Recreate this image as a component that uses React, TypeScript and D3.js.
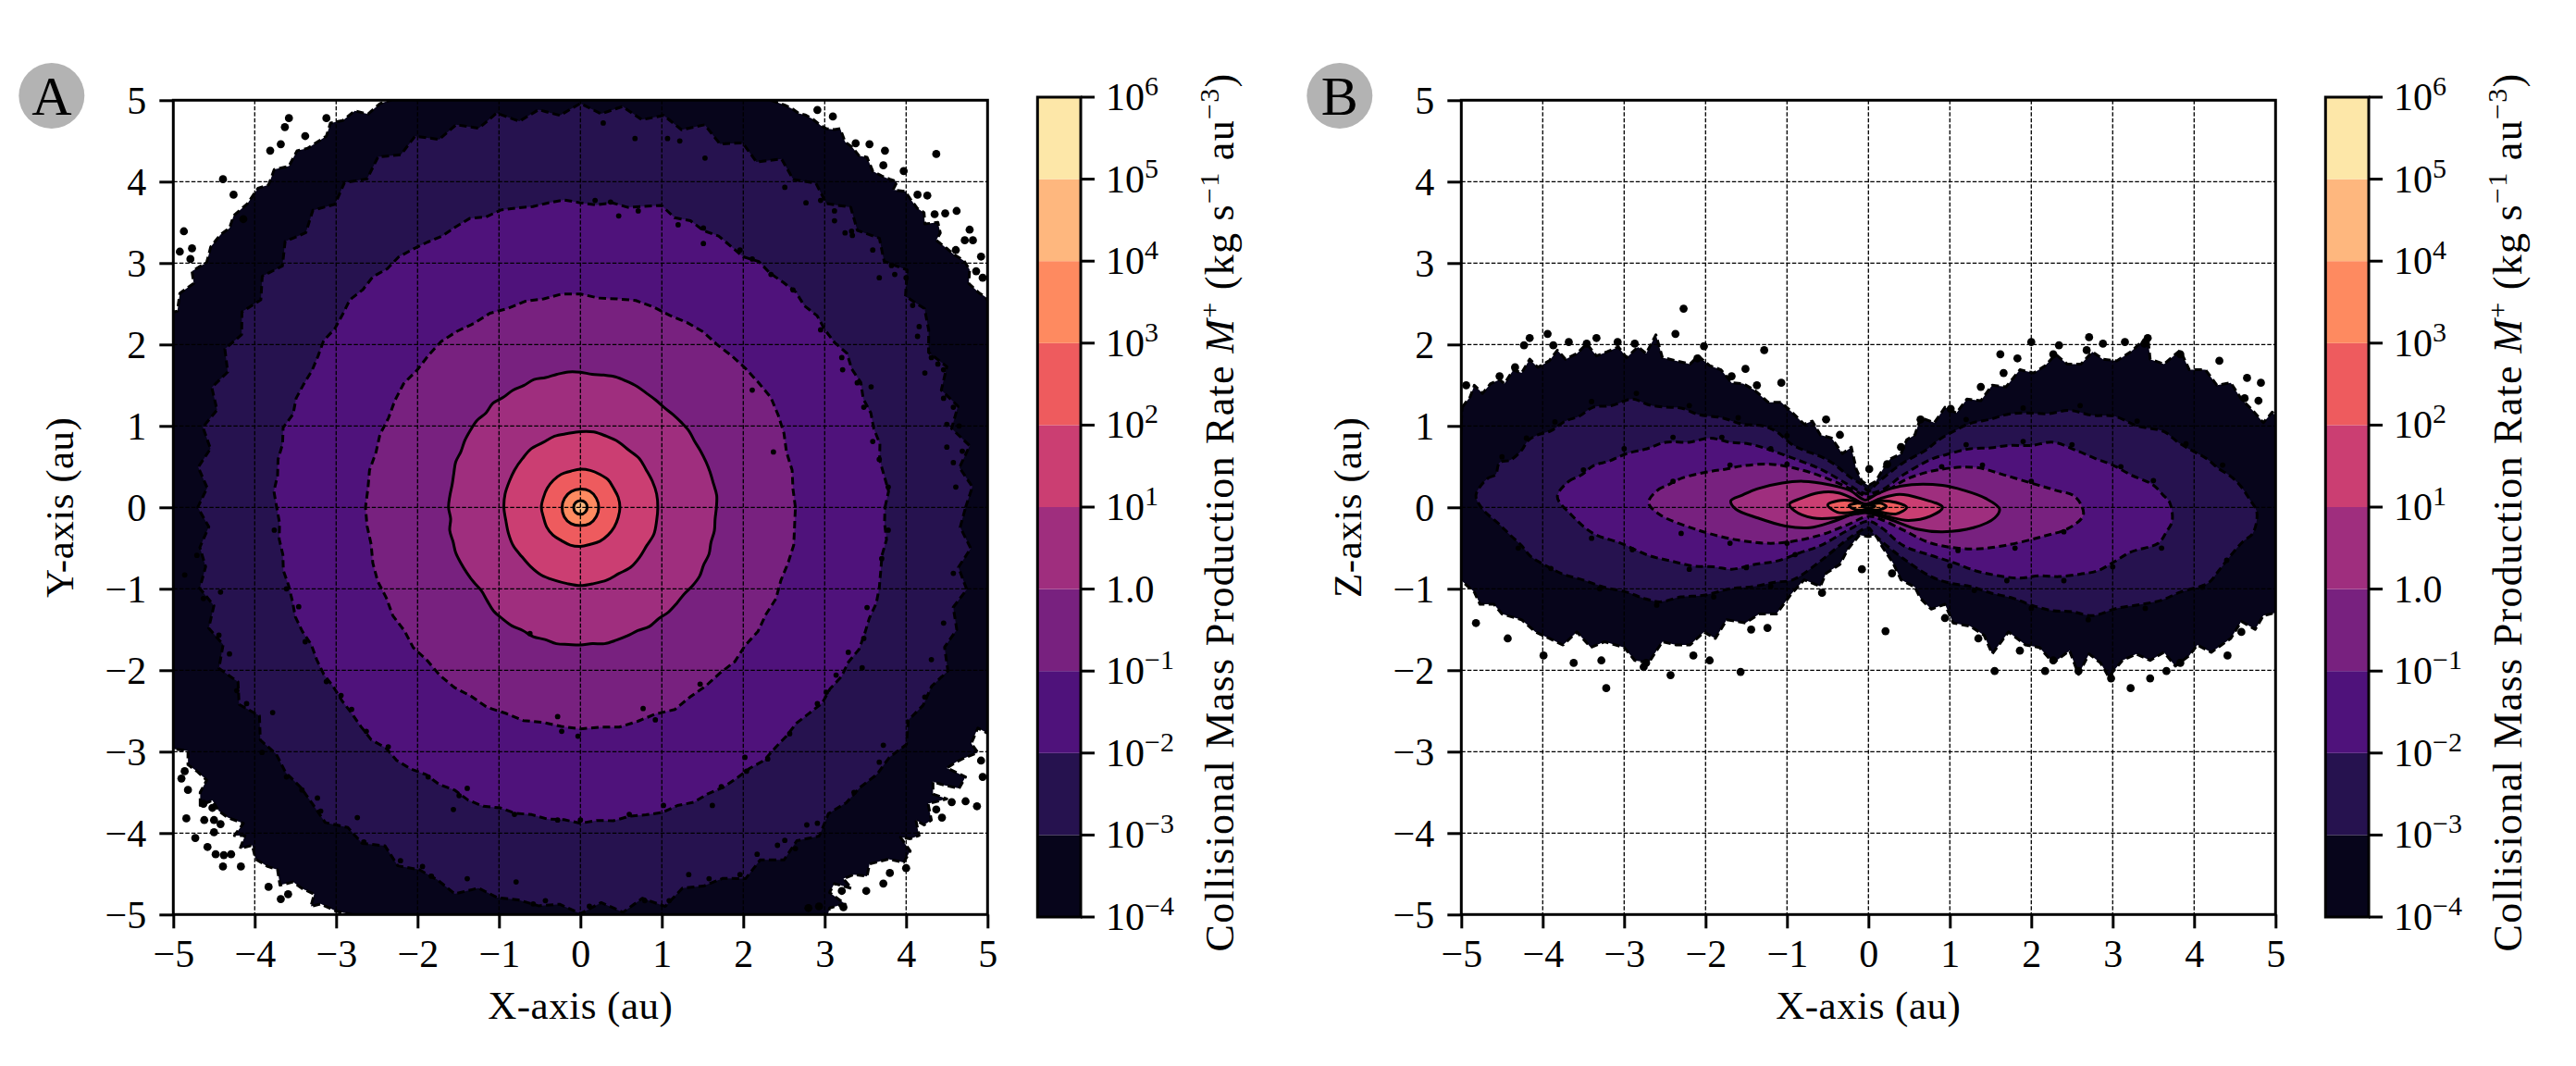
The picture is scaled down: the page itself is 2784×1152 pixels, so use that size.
import * as d3 from 'd3';
import React, { useEffect, useRef } from 'react';

const FONT = '"Liberation Serif", serif';

const xTicks = [-5, -4, -3, -2, -1, 0, 1, 2, 3, 4, 5];
const yTicks = [-5, -4, -3, -2, -1, 0, 1, 2, 3, 4, 5];
const cbarExponents = [-4, -3, -2, -1, 0, 1, 2, 3, 4, 5, 6];
const bandColors = ['#07051b', '#26124f', '#4f127b', '#78217f', '#9f2e7e', '#cb3e72', '#ee5b5e', '#fe8a60', '#feb77e', '#fde7a8'];
const contourExponents = [-4, -3, -2, -1, 0, 1, 2, 3, 4];

// Panel A: outer edge as [x, y] points, clockwise from the top right
const rimA = [
  [2.34, 5.0], [2.51, 4.94], [2.61, 4.89], [2.68, 4.84], [2.76, 4.82], [2.85, 4.77], [2.95, 4.69], [3.02, 4.65], [3.12, 4.64], [3.19, 4.65], [3.25, 4.49], [3.34, 4.42], [3.42, 4.32], [3.52, 4.3], [3.59, 4.13], [3.7, 4.07], [3.8, 4.03], [3.89, 4.0], [3.84, 3.9], [3.99, 3.88], [4.05, 3.79], [4.14, 3.67], [4.22, 3.62], [4.23, 3.48], [4.39, 3.5], [4.42, 3.37], [4.37, 3.28], [4.5, 3.18], [4.58, 3.11], [4.71, 3.03], [4.78, 2.92], [4.77, 2.75], [4.9, 2.63], [4.97, 2.59], [5.07, 2.44], [5.4, 0],
  [5.01, -2.78], [4.88, -2.71], [4.8, -2.9], [4.88, -3.01], [4.69, -3.09], [4.61, -3.13], [4.5, -3.2], [4.73, -3.31], [4.65, -3.45], [4.46, -3.41], [4.33, -3.37], [4.33, -3.52], [4.5, -3.58], [4.27, -3.64], [4.31, -3.84], [4.22, -3.9], [4.12, -3.84], [4.16, -4.03], [4.05, -4.07], [3.93, -4.05], [4.05, -4.22], [3.97, -4.36], [3.78, -4.32], [3.55, -4.38], [3.52, -4.53], [3.36, -4.51], [3.23, -4.56], [3.33, -4.68], [3.12, -4.62], [3.06, -4.73], [3.25, -4.87], [3.06, -4.92], [3.04, -5.0], [3.04, -5.2], [0, -5.4],
  [-2.81, -5.2], [-2.81, -5.0], [-3.0, -4.96], [-3.19, -4.87], [-3.31, -4.9], [-3.27, -4.75], [-3.42, -4.68], [-3.53, -4.6], [-3.69, -4.64], [-3.72, -4.45], [-3.84, -4.41], [-3.99, -4.32], [-4.03, -4.15], [-4.18, -4.19], [-4.12, -4.03], [-4.25, -4.03], [-4.14, -3.88], [-4.33, -3.81], [-4.44, -3.73], [-4.52, -3.6], [-4.67, -3.66], [-4.67, -3.5], [-4.59, -3.35], [-4.71, -3.24], [-4.82, -3.16], [-4.82, -2.99], [-4.97, -2.97], [-5.28, -2.94], [-5.4, 0],
  [-5.1, 2.38], [-4.95, 2.41], [-4.92, 2.63], [-4.75, 2.75], [-4.77, 2.9], [-4.59, 3.01], [-4.54, 3.2], [-4.42, 3.35], [-4.31, 3.43], [-4.26, 3.58], [-4.09, 3.73], [-3.96, 3.92], [-3.83, 3.96], [-3.76, 4.15], [-3.58, 4.19], [-3.48, 4.38], [-3.35, 4.41], [-3.12, 4.56], [-3.07, 4.72], [-2.92, 4.75], [-2.77, 4.87], [-2.61, 4.83], [-2.46, 4.96], [-2.33, 5.0], [-2.33, 5.2], [0, 5.4], [2.34, 5.2],
];

// Panel A: contour radii (au), read at equal angles counter-clockwise from +x
const minus3A = [
  4.73, 4.82, 4.68, 4.84, 4.66, 4.8, 4.66, 4.82, 4.68, 4.8, 4.88, 4.76, 4.96, 4.8, 4.94, 4.81, 4.96, 4.8, 4.92, 4.8, 4.94, 4.76, 4.9, 4.78, 4.94, 4.8, 4.92, 4.82, 4.95, 4.84,
  4.96, 4.82, 4.91, 4.8, 4.95, 4.82, 4.94, 4.84, 4.99, 4.86, 4.97, 4.81, 4.93, 4.79, 4.91, 4.77, 4.88, 4.71, 4.83, 4.68, 4.8, 4.67, 4.78, 4.64, 4.76, 4.62, 4.74, 4.6, 4.72, 4.59,
  4.7, 4.57, 4.7, 4.66, 4.78, 4.66, 4.8, 4.7, 4.86, 4.72, 4.84, 4.7, 4.86, 4.81, 4.87, 4.86, 4.91, 4.98, 4.86, 4.92, 4.8, 4.94, 4.87, 4.9, 4.99, 4.84, 4.9, 4.88, 4.92, 4.88,
  4.99, 4.86, 5.0, 4.86, 5.01, 4.84, 4.89, 4.88, 4.99, 4.86, 5.0, 4.88, 4.99, 4.84, 4.88, 4.86, 4.9, 4.88, 4.95, 4.8, 4.86, 4.84, 4.94, 4.79, 4.86, 4.74, 4.85, 4.7, 4.82, 4.67,
];
const minus2A = [
  3.74, 3.79, 3.75, 3.72, 3.76, 3.73, 3.75, 3.72, 3.77, 3.74, 3.78, 3.72, 3.71, 3.74, 3.7, 3.74, 3.72, 3.7, 3.73, 3.67, 3.7, 3.74, 3.72, 3.77, 3.74, 3.84, 3.78, 3.73, 3.76, 3.72,
  3.74, 3.78, 3.76, 3.74, 3.76, 3.78, 3.75, 3.8, 3.77, 3.74, 3.76, 3.78, 3.8, 3.77, 3.81, 3.78, 3.81, 3.76, 3.73, 3.76, 3.72, 3.7, 3.72, 3.74, 3.71, 3.78, 3.74, 3.76, 3.74, 3.77,
  3.73, 3.7, 3.72, 3.7, 3.73, 3.71, 3.72, 3.75, 3.74, 3.71, 3.74, 3.76, 3.75, 3.77, 3.78, 3.81, 3.84, 3.8, 3.84, 3.83, 3.79, 3.82, 3.8, 3.85, 3.86, 3.82, 3.84, 3.82, 3.85, 3.84,
  3.88, 3.85, 3.87, 3.84, 3.86, 3.88, 3.85, 3.88, 3.85, 3.86, 3.84, 3.82, 3.84, 3.8, 3.78, 3.75, 3.78, 3.82, 3.79, 3.82, 3.8, 3.84, 3.82, 3.8, 3.82, 3.8, 3.77, 3.75, 3.78, 3.74,
];
const minus1A = [
  2.64, 2.62, 2.64, 2.62, 2.66, 2.68, 2.7, 2.67, 2.65, 2.63, 2.61, 2.63, 2.62, 2.6, 2.62, 2.63, 2.6, 2.58, 2.62, 2.63, 2.6, 2.62, 2.6,
  2.63, 2.61, 2.64, 2.66, 2.64, 2.62, 2.65, 2.63, 2.6, 2.62, 2.6, 2.63, 2.62, 2.64, 2.63, 2.61, 2.64, 2.65, 2.63, 2.66, 2.64, 2.68, 2.66,
  2.69, 2.7, 2.68, 2.71, 2.69, 2.71, 2.68, 2.7, 2.72, 2.71, 2.74, 2.72, 2.7, 2.74, 2.69, 2.68, 2.66, 2.68, 2.64, 2.66, 2.63, 2.65, 2.62, 2.64, 2.66, 2.64,
];
const zeroA = [
  1.67, 1.68, 1.66, 1.65, 1.64, 1.63, 1.62, 1.63, 1.62, 1.61, 1.6, 1.61, 1.62, 1.64, 1.65, 1.66, 1.65, 1.64, 1.66, 1.67,
  1.66, 1.65, 1.67, 1.65, 1.66, 1.65, 1.67, 1.64, 1.66, 1.65, 1.64, 1.62, 1.63, 1.61, 1.6, 1.61, 1.62, 1.6, 1.63, 1.62,
  1.63, 1.62, 1.61, 1.6, 1.59, 1.62, 1.66, 1.67, 1.68, 1.67, 1.69, 1.68, 1.7, 1.69, 1.69, 1.68, 1.7, 1.69, 1.68, 1.67,
  1.69, 1.67, 1.68, 1.67, 1.66, 1.68, 1.69, 1.67, 1.68, 1.66, 1.67, 1.66,
];
const oneA = [0.95, 0.95, 0.94, 0.93, 0.94, 0.92, 0.93, 0.93, 0.94, 0.93, 0.92, 0.93, 0.92, 0.94, 0.93, 0.93, 0.93, 0.94, 0.94, 0.93, 0.94, 0.95, 0.94, 0.95, 0.96, 0.95, 0.95, 0.96, 0.95, 0.95, 0.94, 0.96, 0.95, 0.94, 0.96, 0.95];
const twoA = [0.485, 0.48, 0.47, 0.48, 0.47, 0.47, 0.47, 0.46, 0.47, 0.47, 0.47, 0.47, 0.48, 0.47, 0.48, 0.48, 0.47, 0.48, 0.48, 0.47, 0.48, 0.48, 0.48, 0.48];
const threeA = [0.225, 0.225, 0.23, 0.225, 0.225, 0.225, 0.225, 0.23, 0.23, 0.225, 0.23, 0.225];
const fourA = [0.083, 0.085, 0.083, 0.083, 0.083, 0.085, 0.085, 0.083];

// Panel B: contours as [x, z] points
const rimB = [
  [-4.99, 1.23], [-4.89, 1.36], [-4.84, 1.5], [-4.74, 1.4], [-4.64, 1.52], [-4.53, 1.57], [-4.47, 1.52], [-4.36, 1.69], [-4.26, 1.65], [-4.16, 1.82], [-4.06, 1.72], [-3.92, 1.8], [-3.82, 1.93], [-3.72, 1.82], [-3.58, 1.89], [-3.46, 2.01], [-3.34, 1.86], [-3.21, 1.91], [-3.07, 1.97], [-2.97, 1.84], [-2.83, 1.97], [-2.73, 1.89], [-2.61, 2.12], [-2.53, 1.84], [-2.36, 1.8], [-2.19, 1.76], [-2.09, 1.86], [-1.95, 1.74], [-1.81, 1.69], [-1.68, 1.53], [-1.54, 1.52], [-1.4, 1.44], [-1.23, 1.29], [-1.07, 1.29], [-0.93, 1.16], [-0.79, 1.02], [-0.69, 1.06], [-0.59, 0.89], [-0.45, 0.85], [-0.32, 0.66], [-0.21, 0.74], [-0.15, 0.47], [-0.08, 0.32], [0, 0.27],
  [0.09, 0.32], [0.19, 0.49], [0.26, 0.59], [0.4, 0.66], [0.47, 0.83], [0.57, 0.89], [0.64, 1.1], [0.81, 1.04], [0.94, 1.23], [1.08, 1.16], [1.21, 1.33], [1.38, 1.31], [1.52, 1.5], [1.69, 1.48], [1.86, 1.69], [2.03, 1.65], [2.17, 1.74], [2.3, 1.88], [2.44, 1.76], [2.61, 1.76], [2.75, 1.91], [2.88, 1.82], [3.05, 1.8], [3.22, 1.91], [3.43, 2.1], [3.46, 1.82], [3.63, 1.76], [3.83, 1.93], [3.94, 1.69], [4.14, 1.69], [4.28, 1.5], [4.45, 1.53], [4.58, 1.33], [4.72, 1.19], [4.85, 1.04], [4.96, 1.17], [5.1, 1.0],
  [5.1, -1.27], [4.85, -1.33], [4.75, -1.5], [4.58, -1.4], [4.45, -1.61], [4.21, -1.78], [4.04, -1.69], [3.94, -1.82], [3.77, -1.95], [3.63, -1.78], [3.46, -1.88], [3.29, -1.8], [3.12, -1.88], [2.95, -2.08], [2.85, -1.91], [2.71, -1.8], [2.58, -2.05], [2.47, -1.76], [2.27, -1.91], [2.1, -1.72], [1.93, -1.69], [1.72, -1.53], [1.52, -1.8], [1.42, -1.57], [1.25, -1.46], [1.04, -1.42], [0.94, -1.19], [0.77, -1.25], [0.64, -1.12], [0.57, -0.98], [0.4, -0.89], [0.3, -0.68], [0.16, -0.47], [0.09, -0.34], [0, -0.36],
  [-0.11, -0.34], [-0.25, -0.51], [-0.35, -0.7], [-0.52, -0.81], [-0.59, -0.97], [-0.79, -0.89], [-0.96, -1.08], [-1.13, -1.31], [-1.34, -1.31], [-1.51, -1.42], [-1.74, -1.38], [-1.88, -1.61], [-2.02, -1.53], [-2.19, -1.69], [-2.36, -1.69], [-2.53, -1.65], [-2.7, -1.91], [-2.87, -1.88], [-3.0, -1.72], [-3.24, -1.65], [-3.41, -1.72], [-3.58, -1.53], [-3.75, -1.69], [-3.92, -1.61], [-4.09, -1.53], [-4.26, -1.38], [-4.5, -1.31], [-4.6, -1.19], [-4.77, -1.19], [-4.84, -1.04], [-5.1, -0.81],
];
const minus3B = [
  [-4.82, 0.15], [-4.67, 0.36], [-4.58, 0.4], [-4.53, 0.55], [-4.4, 0.58], [-4.26, 0.7], [-4.18, 0.82], [-4.06, 0.89], [-3.9, 0.94], [-3.72, 1.06], [-3.55, 1.12], [-3.38, 1.23], [-3.15, 1.25], [-2.9, 1.33], [-2.7, 1.26], [-2.49, 1.23], [-2.3, 1.22], [-2.09, 1.14], [-1.8, 1.1], [-1.54, 1.02], [-1.3, 1.0], [-1.13, 0.93], [-0.95, 0.78], [-0.79, 0.7], [-0.6, 0.63], [-0.45, 0.55], [-0.21, 0.36], [-0.08, 0.28], [0, 0.2],
  [0.09, 0.28], [0.23, 0.4], [0.43, 0.55], [0.7, 0.7], [0.88, 0.84], [1.04, 0.93], [1.25, 1.03], [1.49, 1.08], [1.7, 1.14], [1.93, 1.16], [2.2, 1.15], [2.47, 1.19], [2.75, 1.13], [3.02, 1.12], [3.3, 1.0], [3.63, 0.93], [3.8, 0.8], [3.97, 0.7], [4.15, 0.6], [4.31, 0.47], [4.45, 0.38], [4.58, 0.25], [4.68, 0.1], [4.77, -0.06],
  [4.72, -0.32], [4.6, -0.42], [4.45, -0.59], [4.3, -0.78], [4.17, -0.93], [3.83, -1.04], [3.6, -1.14], [3.36, -1.19], [3.05, -1.24], [2.75, -1.33], [2.5, -1.28], [2.27, -1.27], [2.0, -1.2], [1.79, -1.12], [1.5, -1.05], [1.25, -0.97], [1.0, -0.93], [0.77, -0.85], [0.43, -0.63], [0.19, -0.44], [0.06, -0.32], [0, -0.25],
  [-0.15, -0.32], [-0.32, -0.44], [-0.59, -0.66], [-0.93, -0.89], [-1.15, -0.92], [-1.4, -0.97], [-1.7, -1.0], [-2.02, -1.08], [-2.3, -1.1], [-2.56, -1.16], [-2.75, -1.12], [-2.97, -1.04], [-3.25, -0.98], [-3.51, -0.89], [-3.75, -0.82], [-3.99, -0.7], [-4.15, -0.6], [-4.26, -0.47], [-4.4, -0.34], [-4.53, -0.21], [-4.74, -0.02],
];
const minus2B = [
  [-3.82, 0.13], [-3.68, 0.32], [-3.52, 0.4], [-3.38, 0.51], [-3.18, 0.57], [-2.97, 0.66], [-2.72, 0.72], [-2.49, 0.8], [-2.2, 0.8], [-1.95, 0.85], [-1.7, 0.8], [-1.47, 0.78], [-1.25, 0.72], [-1, 0.63], [-0.59, 0.47], [-0.25, 0.28], [-0.04, 0.17],
  [0.16, 0.21], [0.43, 0.4], [0.77, 0.59], [1.0, 0.66], [1.25, 0.72], [1.5, 0.73], [1.72, 0.76], [2.0, 0.76], [2.27, 0.8], [2.55, 0.7], [2.81, 0.59], [3.0, 0.52], [3.22, 0.4], [3.49, 0.28], [3.62, 0.15], [3.7, 0.06],
  [3.73, -0.17], [3.66, -0.3], [3.56, -0.44], [3.22, -0.55], [3.0, -0.68], [2.81, -0.78], [2.6, -0.82], [2.34, -0.85], [2.1, -0.84], [1.86, -0.87], [1.6, -0.84], [1.32, -0.78], [1.05, -0.68], [0.77, -0.59], [0.43, -0.47], [0.16, -0.25], [0, -0.17],
  [-0.25, -0.28], [-0.59, -0.47], [-0.85, -0.56], [-1.13, -0.66], [-1.4, -0.7], [-1.68, -0.76], [-1.9, -0.73], [-2.15, -0.72], [-2.42, -0.66], [-2.7, -0.59], [-3.04, -0.44], [-3.38, -0.32], [-3.65, -0.09],
];
const minus1B = [
  [-2.7, 0.06], [-2.59, 0.21], [-2.45, 0.28], [-2.29, 0.36], [-1.95, 0.44], [-1.75, 0.47], [-1.54, 0.51], [-1.2, 0.53], [-0.86, 0.47], [-0.52, 0.36], [-0.18, 0.21], [0, 0.13],
  [0.16, 0.17], [0.5, 0.36], [0.91, 0.47], [1.32, 0.49], [1.66, 0.4], [2.06, 0.28], [2.3, 0.21], [2.54, 0.13], [2.64, -0.09],
  [2.47, -0.25], [2.13, -0.36], [1.66, -0.47], [1.25, -0.51], [0.77, -0.44], [0.43, -0.28], [0.16, -0.15], [0, -0.11],
  [-0.25, -0.21], [-0.59, -0.34], [-1.13, -0.44], [-1.61, -0.4], [-2.09, -0.28], [-2.56, -0.09],
];
const zeroB = [
  [-1.69, 0.08], [-1.55, 0.15], [-1.36, 0.23], [-1.06, 0.3], [-0.8, 0.32], [-0.49, 0.28], [-0.23, 0.21], [-0.04, 0.09],
  [0.08, 0.15], [0.27, 0.23], [0.53, 0.28], [0.91, 0.27], [1.17, 0.21], [1.44, 0.11], [1.61, -0.02],
  [1.55, -0.13], [1.29, -0.25], [0.91, -0.3], [0.61, -0.27], [0.27, -0.15], [0.04, -0.08], [-0.11, -0.06],
  [-0.42, -0.17], [-0.72, -0.25], [-1.02, -0.23], [-1.36, -0.13], [-1.63, -0.02],
];
const oneB = [[-0.97, 0.04], [-0.83, 0.11], [-0.61, 0.18], [-0.38, 0.18], [-0.19, 0.11], [-0.04, 0.04], [0.15, 0.11], [0.38, 0.16], [0.64, 0.11], [0.91, 0], [0.76, -0.11], [0.49, -0.16], [0.23, -0.11], [0.04, -0.06], [-0.15, -0.08], [-0.42, -0.13], [-0.68, -0.13], [-0.91, -0.04]];
const twoB = [[-0.5, 0.03], [-0.38, 0.08], [-0.19, 0.08], [-0.04, 0.04], [0.15, 0.08], [0.34, 0.06], [0.47, 0], [0.34, -0.08], [0.15, -0.06], [0, -0.04], [-0.19, -0.06], [-0.38, -0.06]];
const threeB = [[-0.24, 0.02], [-0.15, 0.05], [0, 0.04], [0.15, 0.05], [0.22, 0.01], [0.13, -0.03], [0, -0.03], [-0.15, -0.03]];
const fourB = [[-0.08, 0.015], [0, 0.03], [0.08, 0.015], [0, -0.01]];

// Isolated blobs outside and around the contours
const specksA = [
  [2.91, 4.88], [3.1, 4.8], [3.55, 4.46], [3.38, 4.47], [3.72, 4.2], [3.74, 4.38], [3.97, 4.13], [4.37, 4.34], [4.14, 3.84], [4.26, 3.83], [4.35, 3.6], [4.48, 3.61], [4.78, 3.41], [4.72, 3.28], [4.82, 3.28], [4.62, 3.64], [4.92, 3.08], [4.94, 2.82], [4.61, 3.16], [4.86, 2.9],
  [4.94, -3.31], [4.92, -3.11], [4.56, -3.62], [4.73, -3.61], [4.87, -3.67], [4.44, -3.81], [4.37, -3.71], [3.8, -4.49], [3.72, -4.62], [3.51, -4.71], [3.23, -4.91], [3.21, -4.71], [4.0, -4.43], [2.93, -4.9], [2.8, -4.92],
  [-4.84, -3.82], [-4.62, -3.84], [-4.5, -3.84], [-4.42, -3.89], [-4.73, -4.06], [-4.58, -4.17], [-4.48, -4.26], [-4.38, -4.27], [-4.29, -4.26], [-4.39, -4.41], [-4.17, -4.41], [-3.83, -4.66], [-3.68, -4.81], [-3.59, -4.75], [-4.86, -3.24], [-4.9, -3.33], [-4.82, -3.47], [-4.63, -3.64], [-4.52, -3.69], [-4.5, -3.99],
  [-3.58, 4.78], [-3.63, 4.67], [-3.12, 4.78], [-3.38, 4.56], [-3.68, 4.46], [-3.81, 4.38], [-4.39, 4.03], [-4.26, 3.84], [-4.87, 3.39], [-4.92, 3.14], [-4.79, 3.05], [-4.77, 3.18], [-4.14, 3.54],
];
const clutterA = [
  [0.28, 4.72], [0.67, 4.53], [1.07, 4.53], [1.22, 4.5], [1.53, 4.29], [2.51, 3.93], [2.77, 3.74], [3.12, 3.52], [3.34, 3.34], [3.25, 3.37], [3.67, 2.82], [4.14, 2.1], [4.23, 1.65], [4.46, 1.34], [4.5, 0.74], [4.58, 0.55], [3.48, 1.23], [3.57, 1.48], [3.22, 1.69], [2.37, 0.68], [2.11, 1.44], [1.51, 3.24], [0.47, 3.58],
  [4.58, -0.81], [4.46, -1.42], [4.31, -1.87], [3.72, -2.92], [3.29, -1.78], [3.46, -1.97], [3.02, -2.27], [1.47, -2.17], [0.77, -2.47], [0.92, -2.61], [-0.03, -2.81], [-0.23, -2.75], [2.02, -3.07], [1.62, -3.66], [1.33, -4.51], [2.17, -4.26], [2.42, -4.15], [2.51, -4.09], [2.78, -3.9],
  [-0.62, -1.55], [-3.46, -1.22], [-2.94, -2.31], [-4.31, -1.8], [-4.86, -0.83], [-4.42, -1.04], [-1.39, -3.45], [-3.23, -3.57], [-3.78, -2.52], [-2.74, -3.81], [-1.94, -4.41], [-0.79, -4.6], [-1.39, -4.56], [-1.56, -3.71], [-0.28, -2.57],
  [4.0, 2.82], [3.86, 2.86], [4.08, 2.48], [4.16, 2.22], [4.31, 1.84], [4.46, 1.69], [4.39, 1.76], [4.58, 1.23], [4.65, 1], [4.5, 1.02], [4.69, 0.69], [4.61, 0.25], [2.95, 3.77], [3.12, 3.64], [3.33, 3.39], [3.59, 3.16], [3.82, 2.97],
  [0.18, 3.77], [0.37, 3.75], [0.71, 3.64], [1.2, 3.47], [1.51, 3.43], [1.96, 3.16], [2.11, 3.05], [2.34, 2.86], [2.61, 2.67], [2.95, 2.18], [3.21, 1.84], [3.4, 1.53], [3.59, 0.81], [3.67, 0.59], [3.78, 0.25],
  [3.78, -0.28], [3.7, -0.63], [3.52, -1.23], [3.48, -1.61], [3.14, -2.06], [2.91, -2.41], [2.57, -2.78], [2.3, -3.09], [2.04, -3.24], [1.73, -3.43], [1.02, -3.66], [0.6, -3.77], [0, -3.84],
  [-0.28, -3.84], [-0.81, -3.77], [-1.49, -3.54], [-1.87, -3.31], [-2.36, -2.94], [-2.63, -2.75], [-2.81, -2.48], [-3.12, -2.14], [-3.38, -1.65], [-3.61, -1], [-3.76, -0.28],
  [4.23, -2.33], [3.67, -3.13], [3.36, -3.5], [2.91, -3.88], [2.64, -4.19], [1.96, -4.51], [1.58, -4.56], [1.09, -4.83], [0.79, -4.83], [0.11, -4.9],
  [-0.43, -4.83], [-0.58, -4.87], [-1.83, -4.53], [-2.21, -4.34], [-2.66, -4.11], [-3.19, -3.73], [-3.42, -3.47], [-3.61, -3.31], [-3.91, -3.01], [-4.1, -2.41], [-4.22, -2.25], [-4.44, -1.57], [-4.63, -1.12], [-4.71, -0.59],
];
const specksB = [
  [-2.27, 2.44], [-4.16, 2.08], [-3.94, 2.13], [-4.23, 1.99], [-3.87, 1.99], [-3.68, 2.03], [-3.46, 2.01], [-3.34, 2.08], [-3.08, 2.03], [-2.87, 2.01], [-2.37, 2.13], [-2.02, 1.98], [-1.28, 1.93], [-2.1, 1.83], [-1.68, 1.61], [-1.51, 1.7], [-1.07, 1.53], [-1.37, 1.5], [-0.52, 1.08], [-0.35, 0.89], [0.01, 0.47], [-4.94, 1.5], [-4.34, 1.72], [-4.53, 1.61],
  [2.0, 2.03], [1.62, 1.88], [1.83, 1.83], [2.34, 1.99], [2.27, 1.88], [2.68, 1.93], [2.88, 2.01], [3.15, 2.03], [3.39, 2.01], [3.43, 2.08], [2.71, 2.09], [3.83, 1.88], [4.31, 1.8], [4.65, 1.59], [4.82, 1.53], [4.62, 1.34], [1.66, 1.65], [1.38, 1.48], [1.01, 1.21], [0.64, 1.08], [0.4, 0.74], [0.23, 0.53], [4.79, 1.31],
  [0.21, -1.52], [-0.08, -0.76], [0.29, -0.81], [0.94, -1.36], [1.55, -2.01], [2.17, -2.01], [3.22, -2.22], [2.98, -2.1], [3.46, -2.1], [3.66, -2.01], [3.83, -1.91], [4.41, -1.82], [4.58, -1.53], [2.58, -2.01], [2.27, -1.88], [1.86, -1.76], [1.35, -1.61],
  [-3.22, -2.22], [-2.43, -2.06], [-1.57, -2.02], [-3.62, -1.91], [-3.28, -1.88], [-2.73, -1.91], [-3.99, -1.82], [-4.43, -1.61], [-4.82, -1.42], [-2.15, -1.82], [-1.95, -1.88], [-1.44, -1.5], [-1.24, -1.48], [-0.57, -1.05], [-2.76, -1.96],
];
const clutterB = [
  [-4.5, 0.62], [-4.2, 0.85], [-3.85, 1.05], [-3.4, 1.3], [-2.85, 1.4], [-2.2, 1.25], [-1.6, 1.1], [-1.0, 0.88], [-3.5, 0.46], [-3.0, 0.72], [-2.4, 0.86], [-1.8, 0.86], [-1.2, 0.72], [-2.4, 0.32], [-1.7, 0.52], [-1.0, 0.53],
  [1.2, 1.08], [1.9, 1.22], [2.6, 1.25], [3.3, 1.06], [3.9, 0.78], [4.35, 0.52], [1.2, 0.77], [1.9, 0.81], [2.5, 0.77], [3.1, 0.5], [3.5, 0.33], [0.9, 0.5], [1.4, 0.52], [2.0, 0.32],
  [-4.3, -0.5], [-3.9, -0.75], [-3.3, -1.0], [-2.6, -1.2], [-1.9, -1.1], [-1.2, -0.97], [-3.4, -0.38], [-2.9, -0.52], [-2.2, -0.76], [-1.5, -0.74], [-0.9, -0.58], [-2.3, -0.32], [-1.7, -0.44], [-1.0, -0.44],
  [4.4, -0.65], [4.1, -0.98], [3.4, -1.24], [2.7, -1.38], [2.0, -1.24], [1.3, -1.02], [3.6, -0.5], [3.0, -0.73], [2.4, -0.9], [1.7, -0.9], [1.0, -0.72], [2.4, -0.3], [1.8, -0.5], [1.1, -0.53],
];

const polar = (radii: number[]) =>
  radii.map((r, i) => {
    const t = (i / radii.length) * 2 * Math.PI;
    return [r * Math.cos(t), r * Math.sin(t)];
  });

const contoursA = [rimA, ...[minus3A, minus2A, minus1A, zeroA, oneA, twoA, threeA, fourA].map(polar)];
const contoursB = [rimB, minus3B, minus2B, minus1B, zeroB, oneB, twoB, threeB, fourB];

const drawPanel = (svg, o) => {
  const { left, contours, specks, clutter, sharp, letter, yLabel } = o;
  const top = 108.3;
  const size = 880;
  const x = d3.scaleLinear().domain([-5, 5]).range([left, left + size]);
  const y = d3.scaleLinear().domain([-5, 5]).range([top + size, top]);
  const id = `clip-${letter}`;

  svg.append('clipPath').attr('id', id).append('rect').attr('x', left).attr('y', top).attr('width', size).attr('height', size);
  const plot = svg.append('g').attr('clip-path', `url(#${id})`);

  const line = d3
    .line()
    .x((d) => x(d[0]))
    .y((d) => y(d[1]));

  // Filled contours, outermost first, with matplotlib's dashed negative levels
  contours.forEach((c, i) => {
    plot
      .append('path')
      .attr('d', line.curve(i < sharp ? d3.curveLinearClosed : d3.curveCatmullRomClosed)(c))
      .attr('fill', bandColors[i])
      .attr('stroke', '#000')
      .attr('stroke-width', 3)
      .attr('stroke-linejoin', 'round')
      .attr('stroke-dasharray', contourExponents[i] < 0 ? '8 4.5' : null);
  });

  const blob = (rows, area) => {
    plot
      .append('g')
      .selectAll('path')
      .data(rows)
      .enter()
      .append('path')
      .attr('transform', (d) => `translate(${x(d[0])},${y(d[1])})`)
      .attr('d', d3.symbol().type(d3.symbolCircle).size(area)());
  };
  blob(specks, 60);
  blob(clutter, 26);

  // Grid on top of the contours
  const grid = svg.append('g').attr('stroke', '#000').attr('stroke-width', 1.3).attr('stroke-dasharray', '4.5 2');
  xTicks.slice(1, -1).forEach((t) => {
    grid.append('line').attr('x1', x(t)).attr('x2', x(t)).attr('y1', top).attr('y2', top + size);
  });
  yTicks.slice(1, -1).forEach((t) => {
    grid.append('line').attr('x1', left).attr('x2', left + size).attr('y1', y(t)).attr('y2', y(t));
  });

  svg.append('rect').attr('x', left).attr('y', top).attr('width', size).attr('height', size).attr('fill', 'none').attr('stroke', '#000').attr('stroke-width', 3);

  const xAxis = svg.append('g').attr('transform', `translate(0,${top + size})`).call(d3.axisBottom(x).tickValues(xTicks).tickSize(15));
  xAxis.select('.domain').remove();
  xAxis.selectAll('line').attr('stroke-width', 3);
  xAxis.selectAll('text').attr('y', 57).attr('dy', 0).attr('font-size', 42).attr('font-family', FONT).attr('fill', '#000');

  const yAxis = svg.append('g').attr('transform', `translate(${left},0)`).call(d3.axisLeft(y).tickValues(yTicks).tickSize(15));
  yAxis.select('.domain').remove();
  yAxis.selectAll('line').attr('stroke-width', 3);
  yAxis.selectAll('text').attr('x', -29).attr('dy', 14).attr('font-size', 42).attr('font-family', FONT).attr('fill', '#000');

  svg.append('text').attr('x', left + size / 2).attr('y', 1101).attr('text-anchor', 'middle').attr('font-size', 43).attr('letter-spacing', 0.5).attr('font-family', FONT).text('X-axis (au)');
  svg
    .append('text')
    .attr('transform', `translate(${left - 108},${top + size / 2}) rotate(-90)`)
    .attr('text-anchor', 'middle')
    .attr('font-size', 43)
    .attr('letter-spacing', 0.5)
    .attr('font-family', FONT)
    .text(yLabel);

  // Panel letter badge
  svg.append('circle').attr('cx', left - 131.5).attr('cy', 103.5).attr('r', 35.5).attr('fill', '#b3b3b3');
  svg.append('text').attr('x', left - 131.5).attr('y', 124).attr('text-anchor', 'middle').attr('font-size', 60).attr('font-family', FONT).text(letter);

  // Colour bar
  const cbLeft = left + 934;
  const cbWidth = 46.7;
  const cb = d3.scaleLinear().domain([-4, 6]).range([991, 105]);
  svg
    .append('g')
    .selectAll('rect')
    .data(bandColors)
    .enter()
    .append('rect')
    .attr('x', cbLeft)
    .attr('width', cbWidth)
    .attr('y', (d, i) => cb(cbarExponents[i + 1]))
    .attr('height', (d, i) => cb(cbarExponents[i]) - cb(cbarExponents[i + 1]))
    .attr('fill', (d) => d);
  svg.append('rect').attr('x', cbLeft).attr('y', 105).attr('width', cbWidth).attr('height', 886).attr('fill', 'none').attr('stroke', '#000').attr('stroke-width', 3);

  cbarExponents.forEach((e) => {
    svg.append('line').attr('x1', cbLeft + cbWidth).attr('x2', cbLeft + cbWidth + 15).attr('y1', cb(e)).attr('y2', cb(e)).attr('stroke', '#000').attr('stroke-width', 3);
    const label = svg.append('text').attr('x', cbLeft + cbWidth + 27).attr('y', cb(e) + 14).attr('font-size', 42).attr('font-family', FONT);
    if (e === 0) {
      label.text('1.0');
    } else {
      label.append('tspan').text('10');
      label.append('tspan').attr('dy', -16).attr('font-size', 30).text(String(e).replace('-', '\u2212'));
    }
  });

  const title = svg
    .append('text')
    .attr('transform', `translate(${cbLeft + 212},${(77 + 1030) / 2}) rotate(-90)`)
    .attr('text-anchor', 'middle')
    .attr('font-size', 44)
    .attr('letter-spacing', 1.3)
    .attr('font-family', FONT);
  title.append('tspan').text('Collisional Mass Production Rate ');
  title.append('tspan').attr('font-style', 'italic').text('M');
  title.append('tspan').attr('dy', -16).attr('font-size', 30).text('+');
  title.append('tspan').attr('dy', 16).text(' (kg s');
  title.append('tspan').attr('dy', -16).attr('font-size', 30).text('\u22121');
  title.append('tspan').attr('dy', 16).text(' au');
  title.append('tspan').attr('dy', -16).attr('font-size', 30).text('\u22123');
  title.append('tspan').attr('dy', 16).text(')');
};

const App = () => {
  const ref = useRef<SVGSVGElement | null>(null);

  useEffect(() => {
    if (!ref.current) {
      return;
    }
    const svg = d3.select(ref.current);
    svg.selectAll('*').remove();
    drawPanel(svg, { left: 187.3, contours: contoursA, specks: specksA, clutter: clutterA, sharp: 4, letter: 'A', yLabel: 'Y-axis (au)' });
    drawPanel(svg, { left: 1579.3, contours: contoursB, specks: specksB, clutter: clutterB, sharp: 1, letter: 'B', yLabel: 'Z-axis (au)' });
  }, []);

  return <svg ref={ref} width={2784} height={1152} style={{ position: 'absolute', left: 0, top: 0, background: '#fff' }} />;
};

export default App;
